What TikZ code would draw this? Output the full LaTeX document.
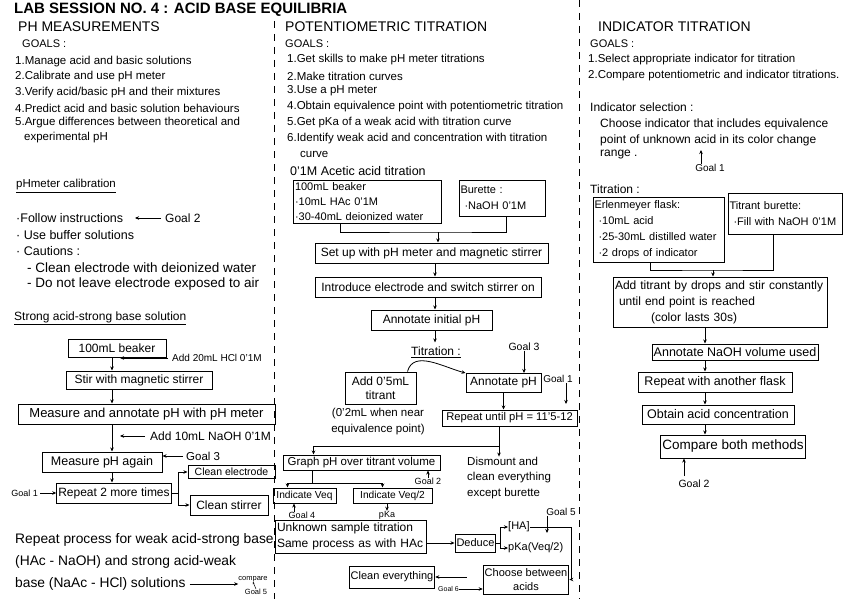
\documentclass[tikz,border=0pt]{standalone}
\usepackage{fontspec}
\setmainfont{Liberation Sans}
\usetikzlibrary{arrows.meta,calc,positioning}

\begin{document}
\begin{tikzpicture}[x=1pt,y=-1pt,>={Stealth[length=4pt,width=3.5pt]},
  every node/.style={inner sep=0pt},
  txt/.style={anchor=west,font=\fontsize{11.5}{15}\selectfont},
  head/.style={anchor=west,font=\fontsize{14}{16}\selectfont},
  tag/.style={font=\fontsize{9}{11}\selectfont},
  box/.style={draw,line width=1pt,inner sep=1.5pt,font=\fontsize{12}{15}\selectfont},
  flow/.style={->,line width=0.8pt},
  wire/.style={line width=0.8pt},
  divider/.style={line width=0.9pt,dash pattern=on 7pt off 6pt}]
  \useasboundingbox (0,0) rectangle (848,599);
  \fill[white] (0,0) rectangle (848,599);

  \node[anchor=west,font=\fontsize{15}{17}\selectfont\bfseries] (title) at (14,10)
    {LAB SESSION NO. 4 : ACID BASE EQUILIBRIA};
  \draw[divider] (274,21) -- (274,599);
  \draw[divider] (579,0) -- (579,599);

  % pH measurements
  \node[head] (phhead) at (18,27) {PH MEASUREMENTS};
  \node[txt,font=\fontsize{11}{13}\selectfont] (lgoals) at (22,44) {GOALS :};
  \node[txt] (lgoal1) at (15,62) {1.Manage acid and basic solutions};
  \node[txt] (lgoal2) at (15,77) {2.Calibrate and use pH meter};
  \node[txt] (lgoal3) at (15,93) {3.Verify acid/basic pH and their mixtures};
  \node[txt] (lgoal4) at (15,108) {4.Predict acid and basic solution behaviours};
  \node[txt] (lgoal5) at (15,123) {5.Argue differences between theoretical and};
  \node[txt] (lgoal5b) at (24,138) {experimental pH};

  \node[txt,font=\fontsize{11.5}{13}\selectfont] (calib) at (16,186) {\underline{pHmeter calibration}};
  \node[txt,font=\fontsize{12.5}{14}\selectfont] (follow) at (16,218) {·Follow instructions};
  \node[txt,font=\fontsize{12}{14}\selectfont] (calgoal) at (165,218) {Goal 2};
  \node[txt,font=\fontsize{12.5}{14}\selectfont] (buffer) at (16,235) {· Use buffer solutions};
  \node[txt,font=\fontsize{12.5}{14}\selectfont] (caution) at (16,251) {· Cautions :};
  \node[txt,font=\fontsize{13.5}{15}\selectfont] (caution1) at (27,268) {- Clean electrode with deionized water};
  \node[txt,font=\fontsize{13.5}{15}\selectfont] (caution2) at (27,284) {- Do not leave electrode exposed to air};
  \draw[flow] ([xshift=-4]calgoal.west) -- ([xshift=-30]calgoal.west);

  \node[txt,font=\fontsize{12}{14}\selectfont] (strong) at (14,318) {\underline{Strong acid-strong base solution}};
  \coordinate (lspine) at (112,0);
  \node[box,minimum width=98,minimum height=18] (beaker) at (117,348) {100mL beaker};
  \node[box,minimum width=146,minimum height=18] (stir) at (139,380) {Stir with magnetic stirrer};
  \node[box,minimum width=257,minimum height=20,font=\fontsize{13}{15}\selectfont] (measure) at (146.5,414)
    {Measure and annotate pH with pH meter};
  \node[box,minimum width=120,minimum height=20,font=\fontsize{12.5}{15}\selectfont] (again) at (102,462) {Measure pH again};
  \node[box,minimum width=112,minimum height=20] (twice) at (114,493) {Repeat 2 more times};
  \node[box,minimum width=87,minimum height=13,font=\fontsize{10.5}{12}\selectfont] (cleanel) at (231.5,472) {Clean electrode};
  \node[box,minimum width=78,minimum height=20] (cleanst) at (229,505) {Clean stirrer};
  \node[txt,font=\fontsize{10}{11}\selectfont] (addhcl) at (172,358) {Add 20mL HCl 0'1M};
  \node[txt,font=\fontsize{12}{13}\selectfont] (addnaoh) at (150,436) {Add 10mL NaOH 0'1M};
  \node[txt] (lgoal3tag) at (186,456) {Goal 3};
  \node[tag,anchor=east] (lgoal1tag) at (38,493) {Goal 1};

  \draw[flow] (lspine |- beaker.south) -- (lspine |- stir.north);
  \draw[flow] (lspine |- stir.south) -- (lspine |- measure.north);
  \draw[flow] (lspine |- measure.south) -- (lspine |- again.north);
  \draw[flow] (lspine |- again.south) -- (lspine |- twice.north);
  \draw[flow] ([xshift=-4]addhcl.west) -- ($(lspine |- addhcl.west)+(8,0)$);
  \draw[flow] ([xshift=-5]addnaoh.west) -- ($(lspine |- addnaoh.west)+(8,0)$);
  \draw[flow] ([xshift=-3]lgoal3tag.west) -- (again.east |- lgoal3tag.west);
  \draw[flow] ([xshift=2]lgoal1tag.east) -- (twice.west);
  \draw[flow] (twice.east) -- ++(7,0) |- (cleanel.west);
  \draw[flow] (twice.east) -- ++(7,0) |- (cleanst.west);

  \node[txt,font=\fontsize{13.8}{15}\selectfont] (weak1) at (15,540) {Repeat process for weak acid-strong base};
  \node[txt,font=\fontsize{13.8}{15}\selectfont] (weak2) at (15,562) {(HAc - NaOH) and strong acid-weak};
  \node[txt,font=\fontsize{13.8}{15}\selectfont] (weak3) at (15,584) {base (NaAc - HCl) solutions};
  \node[font=\fontsize{7.5}{9}\selectfont] (cmp) at (253,579) {compare};
  \node[font=\fontsize{7.5}{9}\selectfont] (lgoal5tag) at (256,592) {Goal 5};
  \draw[flow] ([xshift=4]weak3.east) -- (cmp.west |- weak3.east);
  \draw[->,>={Stealth[length=2pt,width=2pt]},line width=0.5pt] (lgoal5tag.north) -- (cmp.south);

  % potentiometric titration
  \node[head] (pthead) at (285,27) {POTENTIOMETRIC TITRATION};
  \node[txt,font=\fontsize{11}{13}\selectfont] (pgoals) at (285,44) {GOALS :};
  \node[txt] (pgoal1) at (287,60) {1.Get skills to make pH meter titrations};
  \node[txt] (pgoal2) at (287,76) {2.Make titration curves};
  \node[txt] (pgoal3) at (287,91) {3.Use a pH meter};
  \node[txt] (pgoal4) at (287,107) {4.Obtain equivalence point with potentiometric titration};
  \node[txt] (pgoal5) at (287,123) {5.Get pKa of a weak acid with titration curve};
  \node[txt] (pgoal6) at (287,139) {6.Identify weak acid and concentration with titration};
  \node[txt] (pgoal6b) at (300,154) {curve};
  \node[txt,font=\fontsize{12.5}{14}\selectfont] (acetic) at (290,171) {0'1M Acetic acid titration};

  \node[box,align=left,text width=145,minimum height=43,font=\fontsize{11}{15}\selectfont] (hbeaker) at (367.5,201.5)
    {100mL beaker\\·10mL HAc 0'1M\\·30-40mL deionized water};
  \node[box,align=left,text width=83,minimum height=36,font=\fontsize{11}{16}\selectfont] (hburette) at (502,198)
    {Burette :\\\hspace*{4pt}·NaOH 0'1M};
  \coordinate (hjoin) at (438,232);
  \coordinate (mspine) at (435,0);
  \node[box,minimum width=233,minimum height=20] (setup) at (431.5,253) {Set up with pH meter and magnetic stirrer};
  \node[box,minimum width=226,minimum height=20] (intro) at (428,287) {Introduce electrode and switch stirrer on};
  \node[box,minimum width=121,minimum height=20] (initial) at (431.5,320) {Annotate initial pH};
  \node[font=\fontsize{12}{13}\selectfont] (titr) at (436,352) {\underline{Titration :}};
  \draw[wire] ([xshift=-27]hbeaker.south) |- (hjoin) -| ([xshift=4]hburette.south);
  \draw[flow] (hjoin) -- (hjoin |- setup.north);
  \draw[flow] (mspine |- setup.south) -- (mspine |- intro.north);
  \draw[flow] (mspine |- intro.south) -- (mspine |- initial.north);
  \draw[flow] (mspine |- initial.south) -- ($(mspine |- titr.north)+(0,-4)$);

  \node[box,minimum width=71,minimum height=32,align=center,font=\fontsize{12}{14}\selectfont] (addtit) at (380.5,388)
    {Add 0'5mL\\titrant};
  \node[box,minimum width=75,minimum height=19] (annph) at (503.5,383) {Annotate pH};
  \node[tag,font=\fontsize{10.5}{12}\selectfont] (mgoal3) at (524,347) {Goal 3};
  \node[align=center,font=\fontsize{11.5}{16}\selectfont] (near) at (378,422) {(0'2mL when near\\equivalence point)};
  \node[box,minimum width=135,minimum height=16,font=\fontsize{11.2}{13}\selectfont] (untilph) at (509.5,418)
    {Repeat until pH = 11'5-12};
  \node[tag,font=\fontsize{10}{12}\selectfont] (mgoal1) at (558,379) {Goal 1};
  \coordinate (g1tip) at (566,404);
  \draw[flow] (mgoal3.south) -- (mgoal3.south |- annph.north);
  \draw[flow] ([xshift=27]addtit.north) to[out=75,in=165] (annph.north west);
  \draw[flow] (annph.south) -- (annph.south |- untilph.north);
  \draw[flow] (mgoal1.south -| g1tip) -- (g1tip);

  \coordinate (msplit) at (499,446);
  \node[box,minimum width=157,minimum height=15,font=\fontsize{11.5}{13}\selectfont] (graph) at (361.5,462.5) {Graph pH over titrant volume};
  \node[txt,font=\fontsize{11.5}{13}\selectfont] (dism1) at (467,461) {Dismount and};
  \node[txt,font=\fontsize{11.5}{13}\selectfont] (dism2) at (467,478) {clean everything};
  \node[txt,font=\fontsize{11.5}{13}\selectfont] (dism3) at (467,494) {except burette};
  \draw[wire] (untilph.south -| msplit) -- (msplit);
  \draw[flow] (msplit) -| ([xshift=-48]graph.north);
  \draw[flow] (msplit) -- (msplit |- dism1.north);

  \node[tag] (mgoal2) at (428,481) {Goal 2};
  \coordinate (gsplit) at (312,483);
  \node[box,minimum width=63,minimum height=15,font=\fontsize{10.2}{11}\selectfont] (veq) at (304.5,495.5) {Indicate Veq};
  \node[box,minimum width=79,minimum height=15,font=\fontsize{10.2}{11}\selectfont] (veqhalf) at (392.5,495.5) {Indicate Veq/2};
  \node[tag] (mgoal4) at (302,515) {Goal 4};
  \node[tag] (pkatag) at (387,515) {pKa};
  \coordinate (g4) at ([xshift=-8]mgoal4.north);
  \draw[flow] (mgoal2.north) -- (mgoal2.north |- graph.south);
  \draw[wire] (graph.south -| gsplit) -- (gsplit);
  \draw[flow] (gsplit) -| ([xshift=-17]veq.north);
  \draw[flow] (gsplit) -| ([xshift=-10]veqhalf.north);
  \draw[flow] (g4) -- (g4 |- veq.south);
  \draw[flow] (pkatag.north |- veqhalf.south) -- (pkatag.north);

  \node[box,align=left,text width=148,minimum height=33,font=\fontsize{12}{16}\selectfont] (unknown) at (351,536.5)
    {Unknown sample titration\\Same process as with HAc};
  \node[box,minimum width=37,minimum height=18,font=\fontsize{11}{13}\selectfont] (deduce) at (475.5,543) {Deduce};
  \node[txt,font=\fontsize{11}{13}\selectfont] (ha) at (508,527) {[HA]};
  \node[txt,font=\fontsize{11}{13}\selectfont] (pkaveq) at (508,548) {pKa(Veq/2)};
  \node[tag,font=\fontsize{10}{12}\selectfont] (mgoal5) at (561,512) {Goal 5};
  \coordinate (g5tip) at (547,533);
  \coordinate (habend) at (571,527);
  \node[box,minimum width=78,minimum height=29,align=center,font=\fontsize{11}{14}\selectfont] (choose) at (526,579.5) {Choose between\\acids};
  \node[box,minimum width=80,minimum height=22,font=\fontsize{11}{13}\selectfont] (cleanev) at (392,577) {Clean everything};
  \node[anchor=east,font=\fontsize{7}{8}\selectfont] (mgoal6) at (459,589) {Goal 6};
  \draw[flow] (unknown.east |- deduce.west) -- (deduce.west);
  \draw[flow] (deduce.east) -- ++(4,0) |- (ha.west);
  \draw[flow] (deduce.east) -- ++(4,0) |- (pkaveq.west);
  \draw[flow] (mgoal5.south -| g5tip) -- (g5tip);
  \draw[flow] (ha.east) -- (habend) |- (choose.east);
  \draw[flow,shorten <=16pt] (choose.west |- cleanev.east) -- (cleanev.east);
  \draw[flow] (mgoal6.east) -- (mgoal6.east -| choose.west);

  % indicator titration
  \node[head] (ithead) at (598,27) {INDICATOR TITRATION};
  \node[txt,font=\fontsize{11}{13}\selectfont] (igoals) at (590,44) {GOALS :};
  \node[txt] (igoal1) at (588,60) {1.Select appropriate indicator for titration};
  \node[txt] (igoal2) at (588,76) {2.Compare potentiometric and indicator titrations.};
  \node[txt,font=\fontsize{12}{13}\selectfont] (isel) at (590,107) {Indicator selection :};
  \node[txt,font=\fontsize{12}{13}\selectfont] (isel1) at (600,124) {Choose indicator that includes equivalence};
  \node[txt,font=\fontsize{12}{13}\selectfont] (isel2) at (600,140) {point of unknown acid in its color change};
  \node[txt,font=\fontsize{12}{13}\selectfont] (isel3) at (600,155) {range .};
  \node[tag,font=\fontsize{10}{12}\selectfont] (igoal1tag) at (710,168) {Goal 1};
  \coordinate (ig1tip) at (701,150);
  \draw[flow] (igoal1tag.north -| ig1tip) -- (ig1tip);
  \node[txt,font=\fontsize{12}{13}\selectfont] (ititr) at (590,189) {Titration :};

  \node[box,align=left,text width=128,minimum height=65,font=\fontsize{11}{16}\selectfont] (flask) at (658.5,229.5)
    {Erlenmeyer flask:\\\hspace*{4pt}·10mL acid\\\hspace*{4pt}·25-30mL distilled water\\\hspace*{4pt}·2 drops of indicator};
  \node[box,align=left,text width=111,minimum height=41,font=\fontsize{11}{16}\selectfont] (tburette) at (785,213.5)
    {Titrant burette:\\\hspace*{4pt}·Fill with NaOH 0'1M};
  \coordinate (ijoin) at (713,270);
  \coordinate (rspine) at (705,0);
  \node[box,align=left,text width=211,minimum height=50,font=\fontsize{12}{16}\selectfont] (addtitrant) at (720.5,302)
    {Add titrant by drops and stir constantly\\\hspace*{4pt}until end point is reached\\\hspace*{36pt}(color lasts 30s)};
  \node[box,minimum width=166,minimum height=16,font=\fontsize{12.5}{14}\selectfont] (annnaoh) at (735,352) {Annotate NaOH volume used};
  \node[box,minimum width=154,minimum height=20,font=\fontsize{12.5}{14}\selectfont] (another) at (715,382) {Repeat with another flask};
  \node[box,minimum width=152,minimum height=19,font=\fontsize{12.5}{14}\selectfont] (obtain) at (718,414.5) {Obtain acid concentration};
  \node[box,minimum width=140,minimum height=23,font=\fontsize{13.5}{15}\selectfont] (compare) at (733,446.5) {Compare both methods};
  \node[tag,font=\fontsize{10.5}{12}\selectfont] (igoal2tag) at (694,484) {Goal 2};
  \coordinate (ig2) at (684,476);
  \draw[wire] ([xshift=-8.5]flask.south) |- (ijoin) -| ([xshift=-12]tburette.south);
  \draw[flow] (ijoin) -- (ijoin |- addtitrant.north);
  \draw[flow] (rspine |- addtitrant.south) -- (rspine |- annnaoh.north);
  \draw[flow] (rspine |- annnaoh.south) -- (rspine |- another.north);
  \draw[flow] (rspine |- another.south) -- (rspine |- obtain.north);
  \draw[flow] (rspine |- obtain.south) -- (rspine |- compare.north);
  \draw[flow] (ig2) -- (ig2 |- compare.south);
\end{tikzpicture}
\end{document}
